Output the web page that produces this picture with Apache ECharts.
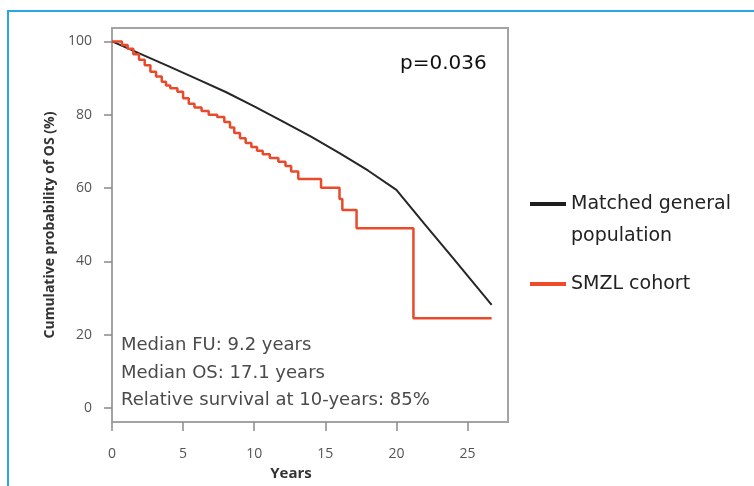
<!DOCTYPE html>
<html>
<head>
<meta charset="utf-8">
<script src="https://cdn.jsdelivr.net/npm/echarts@6/dist/echarts.min.js"></script>
<style>
	html, body { margin: 0; padding: 0; background: #fff; }
	#frame {
		position: absolute; left: 7px; top: 10px; width: 760px; height: 490px;
		border-top: 2px solid #2aa8e2; border-left: 2px solid #2aa8e2;
	}
	#chart-main { position: absolute; left: 0; top: 0; width: 754px; height: 486px; }
</style>
</head>
<body>
<div id="frame"></div>
<div id="chart-main"></div>
<script>
	// tick labels
	const xTicks = [0, 5, 10, 15, 20, 25];
	const yTicks = [0, 20, 40, 60, 80, 100];

	// matched general population (expected survival)
	const popYears = [0, 2, 4, 6, 8, 10, 12, 14, 16, 18, 20, 22, 24, 26.7];
	const popSurv = [100, 96.6, 93.2, 89.7, 86.2, 82.3, 78.2, 74, 69.5, 64.8, 59.5, 50.1, 40.8, 28.1];

	// SMZL cohort (Kaplan-Meier steps)
	const smzlYears = [0, 0.7, 1.1, 1.5, 1.9, 2.3, 2.7, 3.1, 3.5, 3.8, 4.1, 4.6, 5.0, 5.4, 5.8, 6.3, 6.8, 7.4, 7.9, 8.3, 8.6, 9.0, 9.4, 9.8, 10.2, 10.6, 11.1, 11.7, 12.2, 12.6, 13.1, 14.7, 16.0, 16.2, 17.2, 21.2, 26.7];
	const smzlSurv = [100, 99, 98, 96.5, 95, 93.5, 91.7, 90.4, 89, 88, 87.2, 86.3, 84.5, 83, 82, 81, 80, 79.4, 78, 76.5, 75, 73.6, 72.3, 71.2, 70.2, 69.2, 68.2, 67.2, 66, 64.5, 62.5, 60.1, 57, 54, 49, 24.5, 24.5];

	const seriesNames = ['Matched general population', 'SMZL cohort'];
	const notes = ['Median FU: 9.2 years', 'Median OS: 17.1 years', 'Relative survival at 10-years: 85%'];

	const popData = popYears.map((x, i) => [x, popSurv[i]]);
	const smzlData = smzlYears.map((x, i) => [x, smzlSurv[i]]);

	const chart = echarts.init(document.getElementById('chart-main'));
	chart.setOption({
		animation: false,
		grid: {
			left: 112, top: 28, width: 396, height: 394,
			show: true, borderColor: '#a3a3a3', borderWidth: 2
		},
		xAxis: {
			type: 'value', min: 0, max: 27.85,
			splitLine: { show: false },
			axisLine: { show: true, onZero: false, lineStyle: { color: '#a3a3a3', width: 2 } },
			axisTick: { show: true, length: 9, customValues: xTicks, lineStyle: { color: '#8a8a8a', width: 1.5 } },
			axisLabel: { customValues: xTicks, margin: 25, color: '#555', fontFamily: 'Open Sans', fontSize: 14 },
			name: 'Years', nameLocation: 'middle', nameGap: 42,
			nameTextStyle: { color: '#333', fontFamily: 'Open Sans', fontWeight: 'bold', fontSize: 15, padding: [0, 38, 0, 0] }
		},
		yAxis: {
			type: 'value', min: -3.82, max: 103.66,
			splitLine: { show: false },
			axisLine: { show: true, onZero: false, lineStyle: { color: '#a3a3a3', width: 2 } },
			axisTick: { show: true, length: 8, customValues: yTicks, lineStyle: { color: '#8a8a8a', width: 1.5 } },
			axisLabel: { customValues: yTicks, margin: 20, color: '#555', fontFamily: 'Open Sans', fontSize: 14 },
			name: 'Cumulative probability of OS (%)', nameLocation: 'middle', nameGap: 54, nameRotate: 90,
			nameTextStyle: { color: '#333', fontFamily: 'Open Sans', fontWeight: 'bold', fontSize: 14 }
		},
		legend: {
			orient: 'vertical', left: 525, top: 151, itemGap: 16,
			itemWidth: 36, itemHeight: 4, icon: 'rect',
			textStyle: { color: '#222', fontFamily: 'DejaVu Sans', fontSize: 19, lineHeight: 32 },
			// blank first line keeps the icon level with "Matched general"
			formatter: function (name) {
				return name === seriesNames[0] ? ' \nMatched general\npopulation' : name;
			},
			data: seriesNames
		},
		graphic: [
			{
				type: 'text', left: 400, top: 54,
				style: { text: 'p=0.036', fill: '#111', font: '20px "DejaVu Sans"' }
			},
			{
				type: 'text', left: 121, top: 332,
				style: { text: notes.join('\n'), fill: '#4a4a4a', font: '18px "DejaVu Sans"', lineHeight: 27.5 }
			}
		],
		series: [
			{
				name: seriesNames[0], type: 'line', symbol: 'none',
				color: '#1e1e1e',
				lineStyle: { color: '#262626', width: 2 },
				data: popData
			},
			{
				name: seriesNames[1], type: 'line', symbol: 'none', step: 'end',
				color: '#ee4b2b',
				lineStyle: { color: '#e84a2a', width: 2.5 },
				data: smzlData
			}
		]
	});
</script>
</body>
</html>
